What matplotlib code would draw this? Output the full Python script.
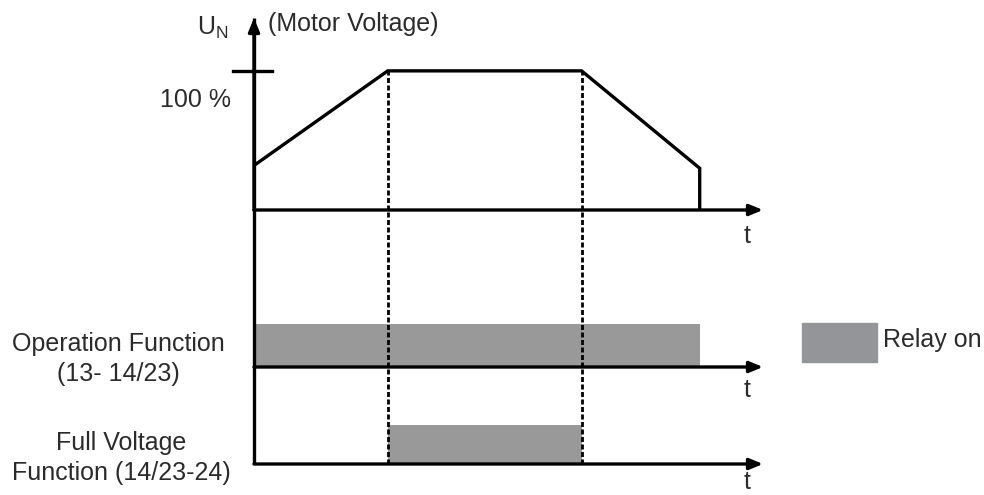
import numpy as np
import matplotlib.pyplot as plt

plt.rcParams['font.family'] = ['Liberation Sans', 'DejaVu Sans']
plt.rcParams['mathtext.fontset'] = 'custom'
plt.rcParams['mathtext.rm'] = 'Liberation Sans'

# time points (arbitrary units) and motor voltage in % of U_N
t_voltage = [0.0, 3.0, 7.35, 10.0, 10.0]
u_voltage = [32, 100, 100, 30, 0]
t_max = 11.42

# relay "on" intervals
op_relay = (0.0, 10.0)      # Operation Function (13- 14/23)
full_relay = (3.0, 7.35)    # Full Voltage Function (14/23-24)
dashed_times = [3.0, 7.35]

GRAY = '#999999'
W, H = 984, 495
LW = 2.4
ARROW = '-|>,head_length=0.8,head_width=0.33'


def px_axes(fig, x0, y0, x1, y1):
    # axes from pixel box (top-left origin)
    return fig.add_axes([x0 / W, 1 - y1 / H, (x1 - x0) / W, (y1 - y0) / H])


def style(ax, arrow_up=False):
    for s in ['top', 'right', 'bottom', 'left']:
        ax.spines[s].set_visible(False)
    ax.set_xticks([])
    ax.set_yticks([])
    ax.patch.set_alpha(0)
    ax.set_xlim(0, t_max)
    ax.plot([0, 0], [0, 1], transform=ax.transAxes, color='black', lw=LW,
            clip_on=False, solid_capstyle='butt')
    ax.annotate('', xy=(1.0, 0), xytext=(0, 0), xycoords='axes fraction',
                arrowprops=dict(arrowstyle=ARROW, color='black', lw=LW,
                                shrinkA=0, shrinkB=0))
    if arrow_up:
        ax.annotate('', xy=(0, 1.0), xytext=(0, 0), xycoords='axes fraction',
                    arrowprops=dict(arrowstyle=ARROW, color='black', lw=LW,
                                    shrinkA=0, shrinkB=0))


def dashed(ax, top):
    for t in dashed_times:
        ax.plot([t, t], [0, top], color='black', lw=2.0, ls=(0, (1.8, 0.9)))


fig = plt.figure(figsize=(9.84, 4.95), dpi=100)

# motor voltage panel
ax_v = px_axes(fig, 254, 18, 763, 210)
ax_v.set_ylim(0, 138)
style(ax_v, arrow_up=True)
ax_v.plot(t_voltage, u_voltage, color='black', lw=LW, solid_joinstyle='miter')
ax_v.plot([-0.47, 0.4], [100, 100], color='black', lw=LW, clip_on=False)
dashed(ax_v, 100)

# operation relay panel
ax_o = px_axes(fig, 254, 210, 763, 367)
ax_o.set_ylim(0, 3.65)
style(ax_o)
ax_o.bar(op_relay[0], 1, width=op_relay[1] - op_relay[0], align='edge',
         color=GRAY, zorder=1)
dashed(ax_o, 3.65)

# full voltage relay panel
ax_f = px_axes(fig, 254, 367, 763, 464)
ax_f.set_ylim(0, 2.5)
style(ax_f)
ax_f.bar(full_relay[0], 1, width=full_relay[1] - full_relay[0], align='edge',
         color=GRAY, zorder=1)
dashed(ax_f, 2.5)


# labels
def ftext(x, y, s, **kw):
    kw.setdefault('fontsize', 18)
    kw.setdefault('color', '#2b2b2b')
    fig.text(x / W, 1 - y / H, s, **kw)


ftext(197, 28, r'U$_\mathrm{N}$', ha='left', va='center', fontsize=18)
ftext(268, 24, '(Motor Voltage)', ha='left', va='center')
ftext(231, 100, '100 %', ha='right', va='center')
ftext(118, 359, 'Operation Function\n(13- 14/23)', ha='center', va='center',
      linespacing=1.3)
ftext(121, 458, 'Full Voltage\nFunction (14/23-24)', ha='center', va='center',
      linespacing=1.3)
for y in [236, 390, 482]:
    ftext(747, y, 't', ha='center', va='center')

# legend
fig.patches.append(plt.Rectangle((802 / W, 1 - 362 / H), 75 / W, 39 / H,
                                 transform=fig.transFigure, color='#939598'))
ftext(883, 340, 'Relay on', ha='left', va='center')

fig.savefig('out.png', dpi=100)
